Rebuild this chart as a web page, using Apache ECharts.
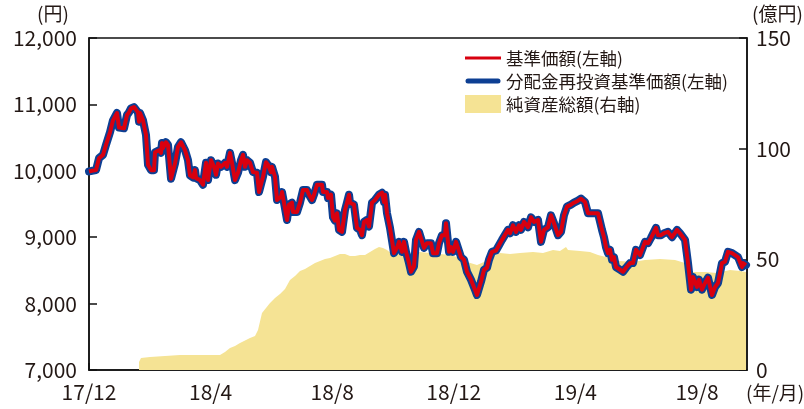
<!DOCTYPE html>
<html><head><meta charset="utf-8">
<script src="https://cdn.jsdelivr.net/npm/echarts@6/dist/echarts.min.js"></script>
<style>html,body{margin:0;padding:0;background:#fff}#c{width:804px;height:409px}</style>
</head><body><div id="c"></div>
<script>
// 基準価額 (円)
const navDates = ['2017-12-01','2017-12-04','2017-12-08','2017-12-11','2017-12-15','2017-12-18','2017-12-22','2017-12-25','2017-12-29','2017-12-31',
'2018-01-02','2018-01-05','2018-01-08','2018-01-10','2018-01-12','2018-01-15','2018-01-17','2018-01-19','2018-01-20','2018-01-21','2018-01-24','2018-01-27','2018-01-29',
'2018-02-01','2018-02-04','2018-02-05','2018-02-09','2018-02-11','2018-02-12','2018-02-13','2018-02-16','2018-02-18','2018-02-21','2018-02-23','2018-02-25','2018-02-28',
'2018-03-03','2018-03-07','2018-03-10','2018-03-12','2018-03-15','2018-03-17','2018-03-18','2018-03-22','2018-03-25','2018-03-26','2018-03-28','2018-03-30',
'2018-04-02','2018-04-05','2018-04-07','2018-04-09','2018-04-12','2018-04-16','2018-04-18','2018-04-21','2018-04-23','2018-04-26','2018-04-29',
'2018-05-02','2018-05-04','2018-05-06','2018-05-08','2018-05-11','2018-05-14','2018-05-18','2018-05-20','2018-05-24','2018-05-27','2018-05-29',
'2018-06-01','2018-06-02','2018-06-05','2018-06-07','2018-06-11','2018-06-12','2018-06-14','2018-06-17','2018-06-19','2018-06-22','2018-06-23','2018-06-27','2018-06-30',
'2018-07-03','2018-07-07','2018-07-09','2018-07-12','2018-07-14','2018-07-17','2018-07-22','2018-07-23','2018-07-27','2018-07-28','2018-07-31',
'2018-08-02','2018-08-04','2018-08-06','2018-08-08','2018-08-11','2018-08-14','2018-08-16','2018-08-18','2018-08-19','2018-08-23','2018-08-26','2018-08-29','2018-08-31',
'2018-09-02','2018-09-05','2018-09-07','2018-09-10','2018-09-13','2018-09-17','2018-09-20','2018-09-22','2018-09-23','2018-09-25','2018-09-28',
'2018-10-02','2018-10-05','2018-10-07','2018-10-10','2018-10-12','2018-10-14','2018-10-17','2018-10-19','2018-10-22','2018-10-24','2018-10-27','2018-10-29',
'2018-11-01','2018-11-04','2018-11-08','2018-11-10','2018-11-14','2018-11-16','2018-11-19','2018-11-22','2018-11-23','2018-11-25','2018-11-26','2018-11-28','2018-11-30',
'2018-12-03','2018-12-05','2018-12-08','2018-12-11','2018-12-14','2018-12-18','2018-12-22','2018-12-24','2018-12-28','2018-12-31',
'2019-01-03','2019-01-05','2019-01-08','2019-01-12','2019-01-15','2019-01-18','2019-01-20','2019-01-24','2019-01-26','2019-01-29',
'2019-02-01','2019-02-04','2019-02-06','2019-02-09','2019-02-13','2019-02-16','2019-02-19','2019-02-23','2019-02-26',
'2019-03-01','2019-03-05','2019-03-08','2019-03-11','2019-03-15','2019-03-18','2019-03-21','2019-03-24','2019-03-28','2019-03-31',
'2019-04-04','2019-04-07','2019-04-11','2019-04-14','2019-04-21','2019-04-24','2019-04-28','2019-04-30',
'2019-05-02','2019-05-04','2019-05-06','2019-05-08','2019-05-10','2019-05-12','2019-05-16','2019-05-19','2019-05-22','2019-05-26','2019-05-29',
'2019-06-01','2019-06-05','2019-06-07','2019-06-10','2019-06-13','2019-06-16','2019-06-18','2019-06-21','2019-06-23','2019-06-26','2019-06-29',
'2019-07-03','2019-07-07','2019-07-12','2019-07-15','2019-07-20','2019-07-23','2019-07-26','2019-07-28',
'2019-08-01','2019-08-03','2019-08-06','2019-08-09','2019-08-12','2019-08-16','2019-08-19','2019-08-22','2019-08-26','2019-08-29',
'2019-09-01','2019-09-05','2019-09-08','2019-09-11','2019-09-15','2019-09-16','2019-09-19'];
const navValues = [9990,10000,10010,10190,10240,10390,10580,10760,10870,10650,
10630,10640,10840,10880,10940,10960,10940,10880,10740,10870,10760,10540,10090,
10010,10010,10280,10310,10270,10420,10340,10430,10390,9880,9860,10110,10360,
10430,10310,10160,9930,9900,10010,9890,9860,9790,9910,10120,9860,
10160,10060,9940,10110,10060,10120,10060,10270,10120,9860,9970,
10160,10240,10060,10160,10120,9980,9970,9680,9910,10130,10090,
9980,10060,9910,9560,9610,9680,9520,9260,9490,9520,9380,9380,9520,
9710,9710,9640,9560,9640,9790,9790,9680,9680,9590,9640,
9300,9250,9360,9110,9080,9410,9520,9640,9520,9490,9140,9110,9030,
9230,9260,9160,9520,9560,9640,9670,9530,9640,9360,9140,
8760,8840,8930,8780,8930,8780,8610,8480,8560,8960,9080,9110,
8840,8910,8910,8760,8760,8910,9030,9030,9210,9210,8780,8850,8780,
8930,8910,8700,8660,8480,8360,8210,8130,8330,8510,
8540,8660,8780,8800,8880,8960,8930,9110,9060,9180,
9080,9180,9110,9230,9150,9300,9230,9260,8930,
9110,9150,9330,9210,9030,9080,9330,9460,9490,9520,
9550,9580,9530,9360,9360,9360,9110,9000,
8850,8760,8810,8660,8700,8550,8510,8480,8540,8610,8610,
8810,8730,8700,8930,8910,8990,8990,9140,9030,9030,9060,
9080,9000,9110,9060,8960,8610,8210,8400,
8250,8360,8210,8310,8390,8130,8250,8310,8610,8630,
8780,8760,8730,8700,8550,8610,8580];
// 分配金再投資基準価額 (円) — 分配実績なしのため基準価額と同値
const reinvestValues = navValues.slice();
// 純資産総額 (億円)
const assetDates = ['2018-01-20','2018-01-22','2018-01-31','2018-02-15','2018-03-02','2018-03-22','2018-04-11','2018-04-16','2018-04-21','2018-04-26',
'2018-05-01','2018-05-11','2018-05-16','2018-05-19','2018-05-23','2018-05-27','2018-05-31','2018-06-05','2018-06-10','2018-06-15','2018-06-20','2018-06-25','2018-06-30',
'2018-07-05','2018-07-10','2018-07-15','2018-07-20','2018-07-25','2018-07-30','2018-08-04','2018-08-09','2018-08-14','2018-08-19','2018-08-24','2018-08-29',
'2018-09-03','2018-09-08','2018-09-13','2018-09-17','2018-09-21','2018-09-25','2018-09-30','2018-10-08','2018-10-18','2018-10-28','2018-11-07','2018-11-17','2018-11-27',
'2018-12-07','2018-12-14','2018-12-24','2018-12-31','2019-01-07','2019-01-16','2019-01-26','2019-02-05','2019-02-18','2019-02-28','2019-03-10','2019-03-17','2019-03-23','2019-03-25',
'2019-04-06','2019-04-16','2019-04-24','2019-05-06','2019-05-16','2019-05-29','2019-06-10','2019-06-25','2019-07-10','2019-07-20','2019-07-25','2019-07-28',
'2019-08-09','2019-08-21','2019-09-03','2019-09-13','2019-09-19'];
const assetValues = [3.6,5.4,5.9,6.3,6.8,6.8,6.8,8.1,9.9,10.8,
12.2,14.5,15.4,18.1,25.8,28,30.3,32.5,34.3,36.6,40.7,42.5,44.7,
45.6,47,48.3,49.2,50.1,50.6,51.5,52.4,52.4,51.5,51.5,52,
52,53.3,54.7,55.6,55.1,54.2,52.4,52.4,52.9,53.3,52.9,52.4,52,
50.6,48.8,47.4,48.8,51,52.9,52.4,52.9,53.3,52.9,54.2,53.8,55.6,54.2,
53.8,53.3,52,50.6,49.2,48.8,49.7,50.1,49.7,48.3,46.1,44.3,
44.3,43.8,45.2,44.7,44.3];
const xTickLabels = ['17/12','18/4','18/8','18/12','19/4','19/8'];
const leftTicks = [7000,8000,9000,10000,11000,12000];
const rightTicks = [0,50,100,150];

const ORIGIN = Date.UTC(2017,11,1);
const DAY = 86400000;
function dayOf(s){const p=s.split('-');return (Date.UTC(+p[0],+p[1]-1,+p[2])-ORIGIN)/DAY;}
const pair = (ds,vs)=>ds.map((d,i)=>[dayOf(d),vs[i]]);

const FONT = '"Noto Sans CJK JP","Noto Sans",sans-serif';
const TXT = '#231815';
const RED = '#d8000f', BLUE = '#0d3f93', GOLD = '#f5e394';
const chart = echarts.init(document.getElementById('c'));
chart.setOption({
  animation:false,
  backgroundColor:'#fff',
  textStyle:{fontFamily:FONT,color:TXT},
  grid:{left:89,right:57,top:38,bottom:39,show:true,borderColor:'#111',borderWidth:1.5,backgroundColor:'transparent'},
  legend:{
    orient:'vertical',left:460,top:44,itemWidth:36,itemHeight:18,itemGap:5,
    textStyle:{fontFamily:FONT,fontSize:17.5,color:TXT},
    data:[
      {name:'基準価額(左軸)',icon:'path://M0,0M0,7.5H36V10.5H0ZM36,18',itemStyle:{color:RED}},
      {name:'分配金再投資基準価額(左軸)',icon:'path://M0,0M3,6.5H33A2.5,2.5,0,0,1,33,11.5H3A2.5,2.5,0,0,1,3,6.5ZM36,18',itemStyle:{color:BLUE}},
      {name:'純資産総額(右軸)',icon:'rect',itemStyle:{color:GOLD}}
    ]
  },
  xAxis:{
    type:'value',min:0,max:658,interval:121.6,
    axisLine:{lineStyle:{color:'#111',width:1.5}},
    axisTick:{inside:true,length:7,lineStyle:{color:'#111',width:1.5}},
    splitLine:{show:false},
    axisLabel:{margin:12,fontSize:21,color:TXT,fontFamily:FONT,showMaxLabel:false,
      formatter:function(v){
        const d=new Date(ORIGIN+Math.round(v)*DAY);
        if(d.getUTCDate()>2) return '';
        const lab=String(d.getUTCFullYear()%100)+'/'+(d.getUTCMonth()+1);
        return xTickLabels.indexOf(lab)>=0?lab:'';
      }}
  },
  yAxis:[
    {type:'value',min:leftTicks[0],max:leftTicks[leftTicks.length-1],interval:1000,position:'left',
     axisLine:{show:true,lineStyle:{color:'#111',width:1.5}},
     axisTick:{show:true,inside:true,length:8,lineStyle:{color:'#111',width:1.5}},
     splitLine:{show:false},
     axisLabel:{margin:12,fontSize:21,color:TXT,fontFamily:FONT,formatter:v=>v.toLocaleString('en-US')}},
    {type:'value',min:rightTicks[0],max:rightTicks[rightTicks.length-1],interval:50,position:'right',
     axisLine:{show:true,lineStyle:{color:'#111',width:1.5}},
     axisTick:{show:true,inside:true,length:8,lineStyle:{color:'#111',width:1.5}},
     splitLine:{show:false},
     axisLabel:{margin:9,fontSize:21,color:TXT,fontFamily:FONT}}
  ],
  graphic:[
    {type:'text',left:37,top:4,style:{text:'(円)',fontSize:19,fontFamily:FONT,fill:TXT}},
    {type:'text',left:752,top:4,style:{text:'(億円)',fontSize:19,fontFamily:FONT,fill:TXT}},
    {type:'text',left:746,top:383,style:{text:'(年/月)',fontSize:19,fontFamily:FONT,fill:TXT}}
  ],
  series:[
    {name:'純資産総額(右軸)',type:'line',yAxisIndex:1,symbol:'none',z:1,
     data:pair(assetDates,assetValues),
     color:GOLD,itemStyle:{color:GOLD},
     lineStyle:{width:0,color:GOLD},areaStyle:{color:GOLD,opacity:1}},
    {name:'分配金再投資基準価額(左軸)',type:'line',yAxisIndex:0,symbol:'none',z:2,
     data:pair(navDates,reinvestValues),
     color:BLUE,lineStyle:{width:8,color:BLUE,join:'round',cap:'round'}},
    {name:'基準価額(左軸)',type:'line',yAxisIndex:0,symbol:'none',z:3,
     data:pair(navDates,navValues),
     color:RED,lineStyle:{width:4,color:RED,join:'round'}}
  ]
});
</script></body></html>
